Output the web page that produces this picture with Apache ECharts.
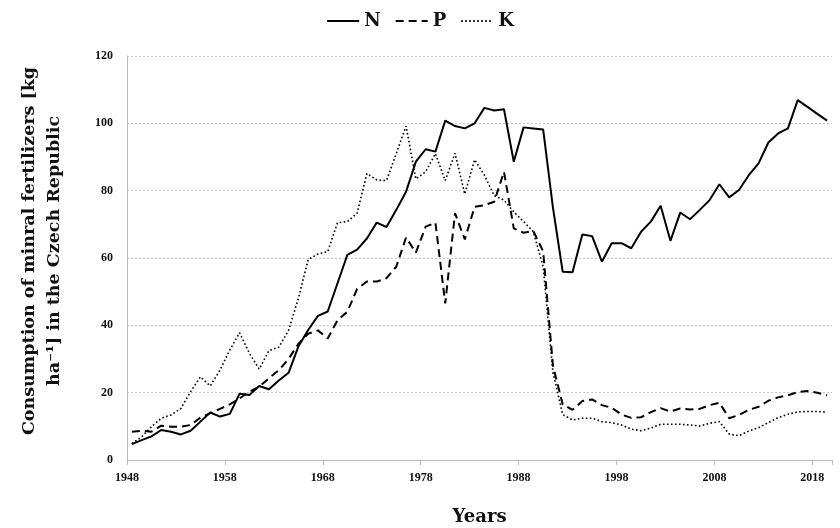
<!DOCTYPE html>
<html>
<head>
<meta charset="utf-8">
<script src="https://cdn.jsdelivr.net/npm/echarts@6/dist/echarts.min.js"></script>
<style>
  html, body { margin: 0; padding: 0; background: #ffffff; }
  #chart { width: 840px; height: 528px; }
</style>
</head>
<body>
<div id="chart"></div>
<script>
// Years 1948–2019, one category per year
const firstYear = 1948;
const lastYear = 2019;
const years = [];
for (let y = firstYear; y <= lastYear; y++) years.push(String(y));

// Nitrogen (N), kg per hectare
const nitrogen = [
  4.7, 5.9, 7.0, 8.9, 8.4, 7.6, 8.7, 11.4, 14.1, 12.9,
  13.7, 19.7, 19.3, 22.0, 21.0, 23.6, 25.9, 33.7, 38.6, 42.8,
  44.1, 52.5, 60.9, 62.5, 65.8, 70.5, 69.2, 74.3, 79.7, 88.6,
  92.3, 91.6, 100.8, 99.2, 98.5, 100.0, 104.6, 103.8, 104.2, 88.6,
  98.8, 98.5, 98.2, 75.0, 55.9, 55.8, 67.0, 66.5, 58.9, 64.4,
  64.4, 62.9, 67.8, 70.8, 75.5, 65.1, 73.5, 71.5, 74.3, 77.2,
  81.9, 78.0, 80.2, 84.6, 88.1, 94.3, 97.0, 98.5, 106.9, 104.9,
  102.8, 100.8
];

// Phosphorus (P), kg per hectare
const phosphorus = [
  8.4, 8.7, 8.4, 10.2, 9.9, 9.9, 10.4, 12.6, 13.9, 15.2,
  16.5, 18.3, 20.3, 21.8, 24.3, 26.7, 30.0, 34.5, 37.5, 38.5,
  36.1, 41.5, 44.0, 50.8, 53.0, 53.0, 54.0, 57.4, 66.1, 61.6,
  69.3, 70.5, 46.5, 73.3, 65.5, 75.2, 75.7, 76.7, 85.6, 68.8,
  67.5, 68.0, 62.0, 28.0, 16.5, 14.9, 17.5, 18.0, 16.3, 15.5,
  13.5, 12.5, 12.7, 14.2, 15.4, 14.4, 15.3, 15.0, 15.2, 16.3,
  17.0, 12.4, 13.4, 14.9, 15.8, 17.6, 18.6, 19.2, 20.2, 20.5,
  20.0, 19.2
];

// Potassium (K), kg per hectare
const potassium = [
  4.9, 6.9, 9.9, 12.4, 13.4, 15.3, 20.3, 24.7, 22.0, 26.7,
  32.7, 37.8, 31.7, 27.0, 32.5, 33.5, 38.5, 48.0, 59.5, 61.2,
  61.9, 70.5, 70.8, 73.3, 85.1, 83.2, 83.0, 91.0, 99.2, 83.5,
  85.6, 91.0, 83.0, 91.1, 79.0, 89.2, 84.6, 78.5, 77.2, 73.7,
  70.8, 67.8, 57.4, 26.0, 13.5, 11.9, 12.4, 12.4, 11.4, 11.1,
  10.4, 9.2, 8.7, 9.5, 10.6, 10.6, 10.6, 10.4, 10.1, 10.9,
  11.4, 7.7, 7.2, 8.6, 9.6, 11.1, 12.6, 13.6, 14.3, 14.4,
  14.4, 14.2
];

const yTicks = { min: 0, max: 120, step: 20 };

// narrow serif for tick labels, wider serif for titles and legend
const tickFont = '"Liberation Serif", "Times New Roman", serif';
const titleFont = '"DejaVu Serif", "Liberation Serif", serif';

const chart = echarts.init(document.getElementById('chart'), null, { renderer: 'canvas' });

chart.setOption({
  backgroundColor: '#ffffff',
  animation: false,
  legend: {
    top: 7,
    left: 'center',
    itemWidth: 32,
    itemHeight: 12,
    itemGap: 14,
    // keep only the line sample in each legend key
    itemStyle: { opacity: 0 },
    textStyle: { fontFamily: titleFont, fontWeight: 'bold', fontSize: 18, color: '#111' },
    data: ['N', 'P', 'K']
  },
  grid: { left: 127, right: 8, top: 56, bottom: 68, outerBoundsMode: 'none' },
  xAxis: {
    type: 'category',
    data: years,
    boundaryGap: true,
    name: 'Years',
    nameLocation: 'middle',
    nameGap: 48,
    nameTextStyle: { fontFamily: titleFont, fontWeight: 'bold', fontSize: 18, color: '#111' },
    axisLine: { lineStyle: { color: '#bdbdbd', width: 1 } },
    axisTick: { show: true, interval: 9, length: 5, lineStyle: { color: '#bdbdbd' } },
    axisLabel: {
      interval: 9,
      margin: 12,
      padding: [0, 10, 0, 0],
      fontFamily: tickFont,
      fontWeight: 'bold',
      fontSize: 12,
      color: '#111'
    },
    splitLine: { show: false }
  },
  yAxis: {
    type: 'value',
    min: yTicks.min,
    max: yTicks.max,
    interval: yTicks.step,
    name: 'Consumption of minral fertilizers [kg\nha\u207B\u00B9] in the Czech Republic',
    nameLocation: 'middle',
    nameRotate: 90,
    nameGap: 60,
    nameTextStyle: {
      fontFamily: titleFont,
      fontWeight: 'bold',
      fontSize: 17.5,
      lineHeight: 25,
      color: '#111',
      align: 'center',
      padding: [0, 0, 0, 14]
    },
    axisLine: { show: true, lineStyle: { color: '#bdbdbd', width: 1 } },
    axisTick: { show: false },
    axisLabel: { margin: 14, fontFamily: tickFont, fontWeight: 'bold', fontSize: 12, color: '#111' },
    splitLine: { lineStyle: { color: '#c8c8c8', width: 1, type: [2, 2] } }
  },
  series: [
    {
      name: 'N',
      type: 'line',
      data: nitrogen,
      symbol: 'none',
      lineStyle: { color: '#000', width: 2, type: 'solid' },
      itemStyle: { color: '#000' }
    },
    {
      name: 'P',
      type: 'line',
      data: phosphorus,
      symbol: 'none',
      lineStyle: { color: '#000', width: 2, type: [8, 5] },
      itemStyle: { color: '#000' }
    },
    {
      name: 'K',
      type: 'line',
      data: potassium,
      symbol: 'none',
      lineStyle: { color: '#000', width: 1.6, type: [1.6, 2.4] },
      itemStyle: { color: '#000' }
    }
  ]
});
</script>
</body>
</html>
